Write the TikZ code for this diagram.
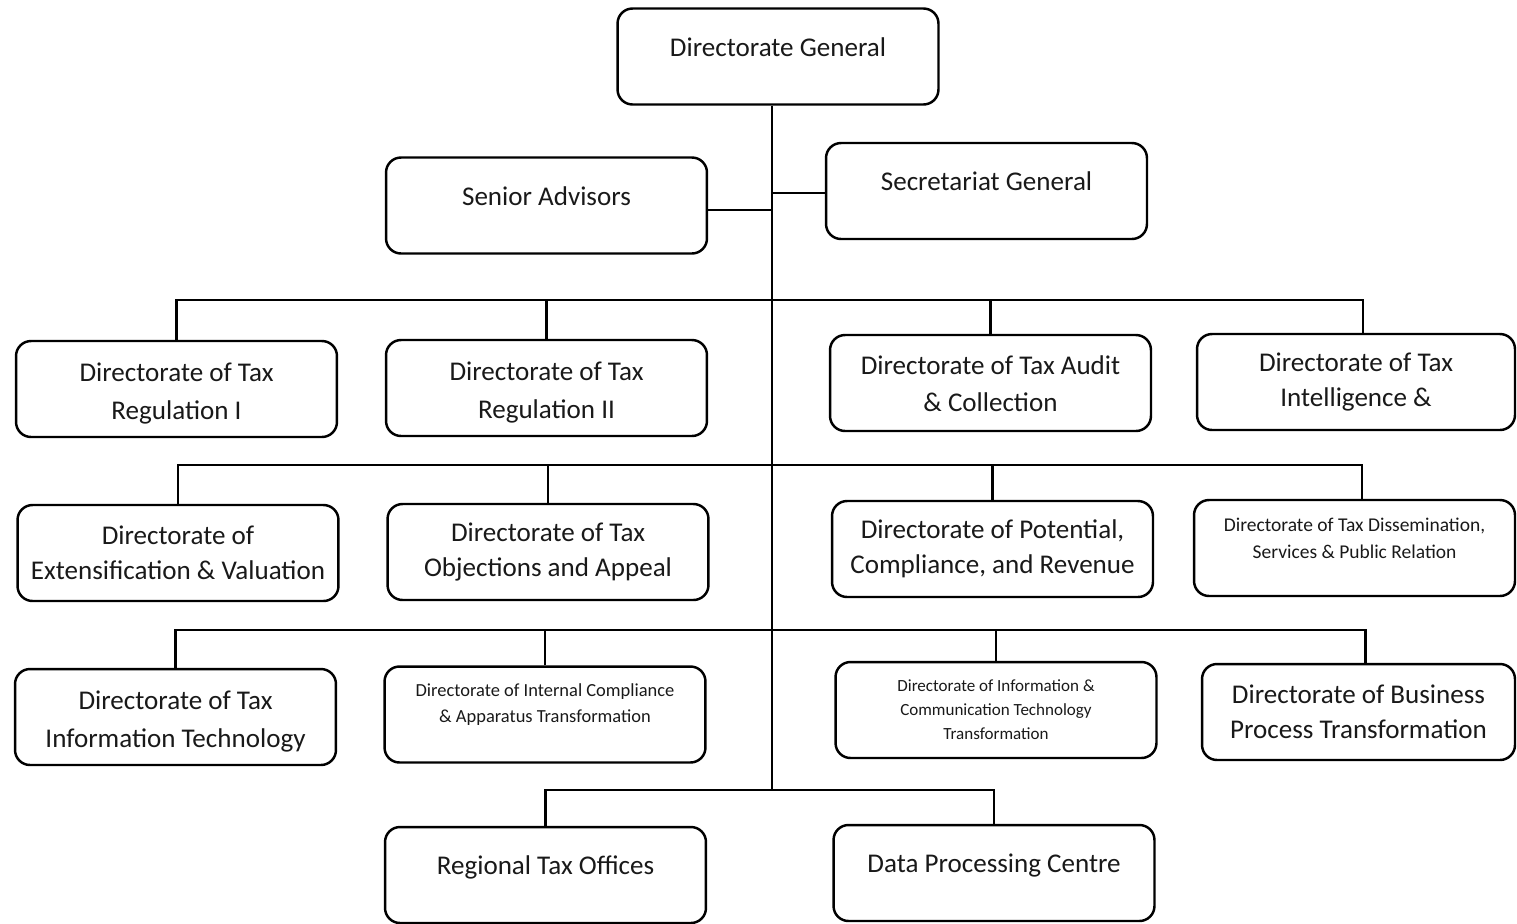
\documentclass[tikz,border=0pt]{standalone}
\usepackage{fontspec}
\setmainfont{Carlito}
\usetikzlibrary{positioning}

\begin{document}
\begin{tikzpicture}%
  [x=0.02cm,
   y=-0.02cm,
   line width=1.2pt,
   every node/.style={text=black!90},
   unit/.style={draw, line width=1.4pt, rounded corners=0.3cm,
                minimum width=6.42cm, minimum height=1.92cm,
                align=center, inner sep=2pt},
   big/.style={font=\fontsize{15.4}{19.8}\selectfont},
   bigger/.style={font=\fontsize{15.4}{21.5}\selectfont,
                  text height=38pt, text depth=3pt},
   small/.style={font=\fontsize{11.1}{15.3}\selectfont},
   smaller/.style={font=\fontsize{10.5}{14.7}\selectfont},
   tiny/.style={font=\fontsize{9.7}{13.6}\selectfont},
   lift/.style={text height=8pt, text depth=#1}
  ]
\useasboundingbox (0,0) rectangle (1517,923);

% top
\node[unit,big,lift=8.4pt] (dg) at (778,56.5)    {Directorate General};
\node[unit,big,lift=8.4pt] (sa) at (546.5,205.5) {Senior Advisors};
\node[unit,big,lift=8.4pt] (sg) at (986.5,191)   {Secretariat General};

% first row
\node[unit,bigger] (reg1)  at (176.5,389) {Directorate of Tax\\Regulation I};
\node[unit,bigger] (reg2)  at (546.5,388) {Directorate of Tax\\Regulation II};
\node[unit,bigger,text height=36pt] (audit) at (990.5,383) {Directorate of Tax Audit\\\& Collection};
\node[unit,big,minimum width=6.36cm] (intel) at (1356,382) {Directorate of Tax\\Intelligence \&};

% second row
\node[unit,big] (ext)  at (178,553)    {Directorate of\\Extensification \& Valuation};
\node[unit,big] (obj)  at (548,552)    {Directorate of Tax\\Objections and Appeal};
\node[unit,big] (pot)  at (992.5,549)  {Directorate of Potential,\\Compliance, and Revenue};
\node[unit,small,text height=20pt,text depth=8.2pt] (diss) at (1354.5,548)
  {Directorate of Tax Dissemination,\\Services \& Public Relation};

% third row
\node[unit,bigger] (it)   at (175.5,717) {Directorate of Tax\\Information Technology};
\node[unit,smaller,text height=20pt,text depth=11.3pt] (icat) at (545,714.5)
  {Directorate of Internal Compliance\\\& Apparatus Transformation};
\node[unit,tiny] (ict)  at (996,710)
  {Directorate of Information \&\\Communication Technology\\Transformation};
\node[unit,big,minimum width=6.26cm] (bpt) at (1358.5,712)
  {Directorate of Business\\Process Transformation};

% offices
\node[unit,big,lift=8.4pt] (rto) at (545.5,875) {Regional Tax Offices};
\node[unit,big,lift=8.4pt] (dpc) at (994,873)   {Data Processing Centre};

% trunk and buses
\coordinate (r1) at (772,300);
\coordinate (r2) at (772,465);
\coordinate (r3) at (772,630);
\coordinate (r4) at (772,790);

\draw (dg.south -| r4) -- (r4);
\draw ([yshift=-2.5pt]sa.east) -- ([yshift=-2.5pt]sa.east -| r4);
\draw ([yshift=-1pt]sg.west) -- ([yshift=-1pt]sg.west -| r4);

\draw (reg1.north) |- (r1) -| ([xshift=4pt]intel.north);
\draw (reg2.north) -- (reg2.north |- r1);
\draw (audit.north) -- (audit.north |- r1);

\draw (ext.north) |- (r2) -| ([xshift=4.5pt]diss.north);
\draw (obj.north) -- (obj.north |- r2);
\draw (pot.north) -- (pot.north |- r2);

\draw (it.north) |- (r3) -| ([xshift=4pt]bpt.north);
\draw (icat.north) -- (icat.north |- r3);
\draw (ict.north) -- (ict.north |- r3);

\draw (rto.north) |- (r4) -| (dpc.north);
\end{tikzpicture}
\end{document}
